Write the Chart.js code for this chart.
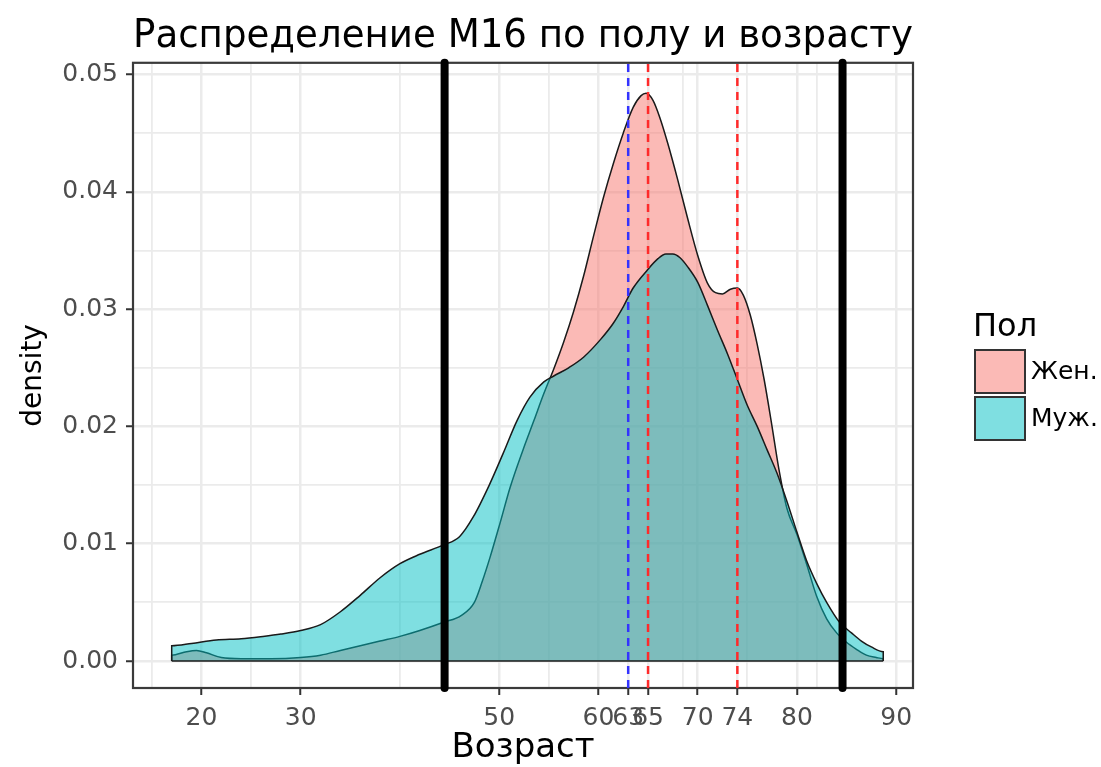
<!DOCTYPE html>
<html>
<head>
<meta charset="utf-8">
<script src="https://cdn.jsdelivr.net/npm/chart.js@4.4.1/dist/chart.umd.min.js"></script>
<style>
  html, body { margin: 0; padding: 0; background: #fff; }
  canvas { display: block; }
</style>
</head>
<body>
<canvas id="densityChart" width="1101" height="767"></canvas>
<script>
// density curves (age -> density)
const ageF = [17.0, 18.5, 19.5, 20.5, 22, 24, 27, 30, 32, 34, 36, 38, 40, 42, 44.4, 46.2, 47.5, 48.3, 49.1, 50.1,
  51.1, 52.4, 53.5, 54.5, 55.5, 56.5, 57.5, 58.5, 59.5, 60.5, 61.5, 62.5, 63.5, 64.3, 64.8, 65.5, 66.2, 67, 68, 69,
  70, 71, 71.8, 72.5, 73.3, 74, 74.6, 75.3, 76, 76.7, 77.4, 78.2, 79, 80, 81, 82, 83, 84, 85, 86, 87, 88, 88.7];
const densF = [0.0005, 0.0008, 0.0009, 0.0007, 0.0003, 0.0002, 0.0002, 0.0003, 0.0005, 0.0009, 0.0013, 0.0017, 0.0021, 0.0026, 0.0033, 0.0039, 0.0050, 0.0068, 0.0089, 0.0118,
  0.0148, 0.0180, 0.0205, 0.0228, 0.0249, 0.0272, 0.0298, 0.0328, 0.0362, 0.0395, 0.0424, 0.0450, 0.0472, 0.0482, 0.0484, 0.0478, 0.0463, 0.0441, 0.0410, 0.0377,
  0.0346, 0.0322, 0.0314, 0.0313, 0.0317, 0.0318, 0.0312, 0.0295, 0.0270, 0.0240, 0.0205, 0.0163, 0.0130, 0.0108, 0.0082, 0.0055, 0.0036, 0.0024, 0.0016, 0.0010, 0.0005, 0.0003, 0.0002];

const ageM = [17.0, 19, 21.5, 24, 26.2, 28, 30, 32, 34, 36, 38, 40, 42, 44.4, 46, 47.4, 49, 50.4, 51.8, 53.1,
  54.5, 55.5, 57, 58.5, 60.2, 61.5, 62.5, 63.5, 64.9, 66, 66.8, 67.5, 68.2, 69, 70, 71, 72, 73, 74, 75,
  76, 77, 78, 79, 80, 81, 82, 83, 84.3, 85.5, 86.5, 87.5, 88.7];
const densM = [0.0013, 0.0015, 0.0018, 0.0019, 0.0021, 0.0023, 0.0026, 0.0031, 0.0042, 0.0056, 0.0071, 0.0083, 0.0091, 0.0099, 0.0106, 0.0123, 0.0150, 0.0177, 0.0205, 0.0225,
  0.0238, 0.0243, 0.0250, 0.0259, 0.0274, 0.0288, 0.0302, 0.0318, 0.0333, 0.0343, 0.0347, 0.0347, 0.0344, 0.0336, 0.0323, 0.0303, 0.0282, 0.0262, 0.0240, 0.0218,
  0.0200, 0.0180, 0.0160, 0.0136, 0.0110, 0.0085, 0.0066, 0.0050, 0.0033, 0.0024, 0.0017, 0.0012, 0.0008];

const groups = ['Жен.', 'Муж.'];
const xMajor = [20, 30, 50, 60, 63, 65, 70, 74, 80, 90];
const xMinor = [15, 25, 40, 55, 68.5, 75, 82];
const yMajor = [0, 0.01, 0.02, 0.03, 0.04, 0.05];
const yMinor = [0.005, 0.015, 0.025, 0.035, 0.045];
const blackLines = [44.5, 84.6];
const blueLines = [63];
const redLines = [65, 74];

const xLim = [13.1, 91.7];
const yLim = [-0.0023, 0.0510];

const fills = ['rgba(248,118,109,0.5)', 'rgba(0,191,196,0.5)'];
const FONT = '"DejaVu Sans", "Liberation Sans", sans-serif';

// closed outline: drop to zero at both ends like geom_density
function curve(xs, ys) {
  const pts = xs.map((x, i) => ({x: x, y: ys[i]}));
  return [{x: xs[0], y: 0}, ...pts, {x: xs[xs.length - 1], y: 0}];
}
function vline(v) {
  return [{x: v, y: yLim[0]}, {x: v, y: yLim[1]}];
}

const datasets = [
  {
    label: groups[0], data: curve(ageF, densF), order: 5,
    fill: 'origin', backgroundColor: fills[0], borderColor: '#1a1a1a', borderWidth: 1.5,
    pointRadius: 0, cubicInterpolationMode: 'monotone'
  },
  {
    label: groups[1], data: curve(ageM, densM), order: 4,
    fill: 'origin', backgroundColor: fills[1], borderColor: '#1a1a1a', borderWidth: 1.5,
    pointRadius: 0, cubicInterpolationMode: 'monotone'
  },
  {
    label: 'base', order: 3, borderColor: '#1a1a1a', borderWidth: 1.5, pointRadius: 0, fill: false,
    data: [{x: Math.min(ageF[0], ageM[0]), y: 0}, {x: Math.max(ageF[ageF.length - 1], ageM[ageM.length - 1]), y: 0}]
  }
];
blackLines.forEach(v => datasets.push({
  label: 'q', data: vline(v), order: 2, borderColor: '#000', borderWidth: 8,
  borderCapStyle: 'round', pointRadius: 0, fill: false, clip: false
}));
blueLines.forEach(v => datasets.push({
  label: 'b', data: vline(v), order: 1, borderColor: '#3333ff', borderWidth: 2.5,
  borderDash: [8, 6], pointRadius: 0, fill: false
}));
redLines.forEach(v => datasets.push({
  label: 'r', data: vline(v), order: 1, borderColor: '#ff2a2a', borderWidth: 2.5,
  borderDash: [8, 6], pointRadius: 0, fill: false
}));

const panelBorder = {
  id: 'panelBorder',
  beforeDatasetsDraw(chart) {
    const {ctx, chartArea: a} = chart;
    ctx.save();
    ctx.strokeStyle = '#3a3a3a';
    ctx.lineWidth = 2.2;
    ctx.strokeRect(a.left, a.top, a.right - a.left, a.bottom - a.top);
    ctx.restore();
  }
};

const sideLegend = {
  id: 'sideLegend',
  afterDraw(chart) {
    const ctx = chart.ctx;
    ctx.save();
    ctx.textAlign = 'left';
    ctx.textBaseline = 'middle';
    ctx.fillStyle = '#000';
    ctx.font = '32px ' + FONT;
    ctx.fillText('Пол', 973, 328);
    groups.forEach((g, i) => {
      const y = 350 + i * 47;
      ctx.fillStyle = '#fff';
      ctx.fillRect(975, y, 50, 43);
      ctx.fillStyle = fills[i];
      ctx.fillRect(975, y, 50, 43);
      ctx.strokeStyle = '#333';
      ctx.lineWidth = 2;
      ctx.strokeRect(975, y, 50, 43);
      ctx.fillStyle = '#000';
      ctx.font = '25px ' + FONT;
      ctx.fillText(g, 1031, y + 22);
    });
    ctx.restore();
  }
};

new Chart(document.getElementById('densityChart').getContext('2d'), {
  type: 'line',
  data: { datasets: datasets },
  plugins: [panelBorder, sideLegend],
  options: {
    responsive: false,
    animation: false,
    layout: { padding: { left: 0, right: 188, top: 0, bottom: 0 } },
    plugins: {
      legend: { display: false },
      tooltip: { enabled: false },
      title: {
        display: true,
        text: 'Распределение М16 по полу и возрасту',
        fullSize: false,
        color: '#000',
        font: { family: FONT, size: 39, weight: 'normal' },
        padding: { top: 13, bottom: 3 }
      }
    },
    scales: {
      x: {
        type: 'linear',
        min: xLim[0],
        max: xLim[1],
        afterBuildTicks: (scale) => {
          scale.ticks = [...xMinor, ...xMajor].sort((a, b) => a - b).map(v => ({value: v}));
        },
        afterFit: (scale) => { scale.height = 79; },
        border: { display: false },
        grid: {
          color: '#ebebeb',
          lineWidth: (c) => xMajor.includes(c.tick.value) ? 2.5 : 1.8,
          tickLength: 7,
          tickColor: (c) => xMajor.includes(c.tick.value) ? '#333' : 'rgba(0,0,0,0)',
          tickWidth: 2
        },
        ticks: {
          autoSkip: false,
          maxRotation: 0,
          padding: 8,
          color: '#4d4d4d',
          font: { family: FONT, size: 25 },
          callback: (v) => xMajor.includes(v) ? String(v) : ''
        },
        title: {
          display: true,
          text: 'Возраст',
          color: '#000',
          font: { family: FONT, size: 34 },
          padding: { top: 0, bottom: -2 }
        }
      },
      y: {
        type: 'linear',
        min: yLim[0],
        max: yLim[1],
        afterBuildTicks: (scale) => {
          scale.ticks = [...yMajor, ...yMinor].sort((a, b) => a - b).map(v => ({value: v}));
        },
        afterFit: (scale) => { scale.width = 133; },
        border: { display: false },
        grid: {
          color: '#ebebeb',
          lineWidth: (c) => yMajor.includes(c.tick.value) ? 2.5 : 1.8,
          tickLength: 7,
          tickColor: (c) => yMajor.includes(c.tick.value) ? '#333' : 'rgba(0,0,0,0)',
          tickWidth: 2
        },
        ticks: {
          padding: 8,
          color: '#4d4d4d',
          font: { family: FONT, size: 25 },
          callback: (v) => yMajor.includes(v) ? v.toFixed(2) : ''
        },
        title: {
          display: true,
          text: 'density',
          color: '#000',
          font: { family: FONT, size: 28 },
          padding: { top: 17, bottom: 0 }
        }
      }
    }
  }
});
</script>
</body>
</html>
